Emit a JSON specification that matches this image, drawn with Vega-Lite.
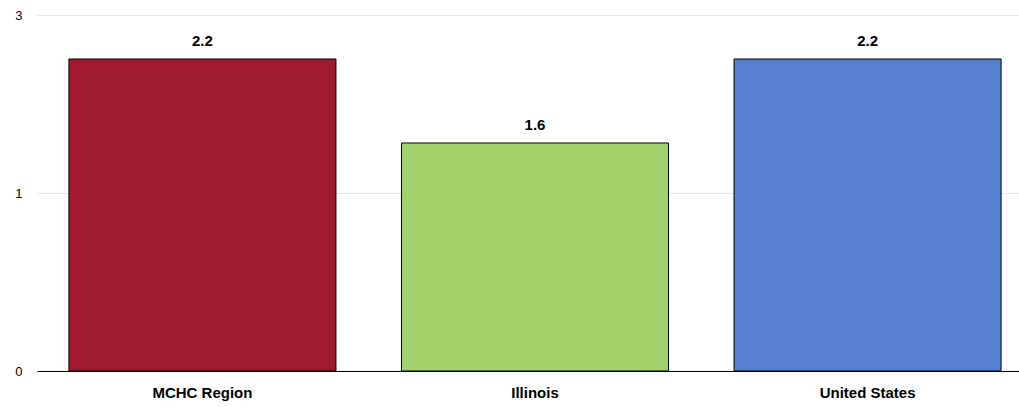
{
  "$schema": "https://vega.github.io/schema/vega-lite/v6.json",
  "autosize": {"type": "none"},
  "padding": {"left": 37, "top": 15, "right": 0, "bottom": 36},
  "width": 996,
  "height": 356,
  "background": "white",
  "config": {"view": {"stroke": null}, "font": "Liberation Sans"},
  "data": {"values": [
    {"region": "MCHC Region", "value": 2.37, "label": "2.2", "color": "#A1192F"},
    {"region": "Illinois", "value": 1.43, "label": "1.6", "color": "#A2D36A"},
    {"region": "United States", "value": 2.37, "label": "2.2", "color": "#5681D0"}
  ]},
  "encoding": {
    "x": {"field": "region", "type": "nominal", "sort": null,
      "scale": {"paddingInner": 0.197, "paddingOuter": 0.096},
      "axis": {"title": null, "labelAngle": 0, "ticks": false, "domainColor": "#000000", "domainWidth": 1.2,
        "labelFont": "Liberation Sans", "labelFontSize": 15, "labelFontWeight": "bold", "labelColor": "#000000", "labelPadding": 14}},
    "y": {"field": "value", "type": "quantitative",
      "scale": {"type": "symlog", "constant": 1, "domain": [0, 3], "nice": false},
      "axis": {"title": null, "values": [0, 1, 3], "format": "d", "ticks": false, "domain": false,
        "gridColor": "#e6e6e6", "gridWidth": 1, "labelFont": "Liberation Sans", "labelFontSize": 13, "labelColor": "#000000", "labelPadding": 15}}
  },
  "layer": [
    {"mark": {"type": "bar", "stroke": "#000000", "strokeWidth": 1},
     "encoding": {"color": {"field": "color", "type": "nominal", "scale": null}}},
    {"mark": {"type": "text", "baseline": "bottom", "dy": -10, "font": "Liberation Sans", "fontSize": 15, "fontWeight": "bold", "color": "#000000"},
     "encoding": {"text": {"field": "label"}}}
  ]
}
